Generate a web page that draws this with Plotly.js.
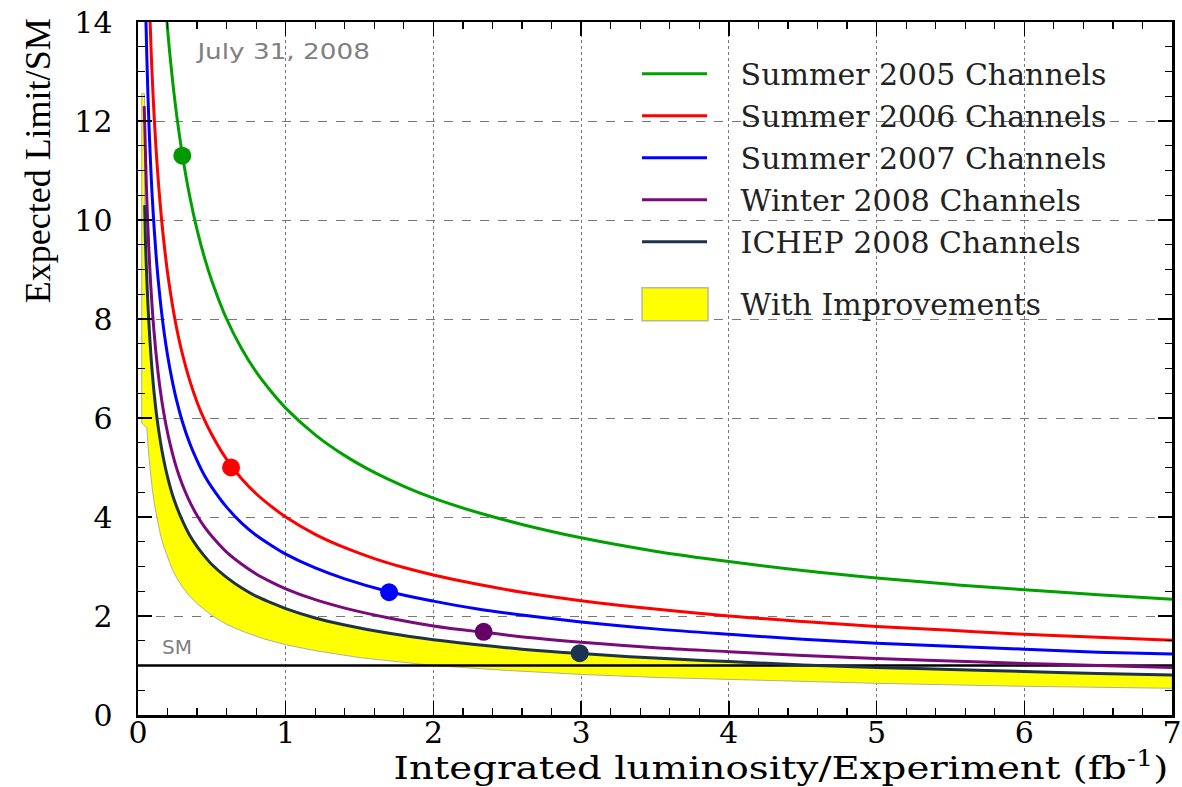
<!DOCTYPE html>
<html>
<head>
<meta charset="utf-8">
<script src="https://cdn.plot.ly/plotly-3.0.1.min.js"></script>
<style>html,body{margin:0;padding:0;background:#fff;}#chart{width:1182px;height:787px;}</style>
</head>
<body>
<div id="chart"></div>
<script>
// ---- Data ----
const seriesNames = ["Summer 2005 Channels","Summer 2006 Channels","Summer 2007 Channels","Winter 2008 Channels","ICHEP 2008 Channels"];
const bandName = "With Improvements";

const s2005X = [0.196,0.22,0.25,0.28,0.31,0.35,0.4,0.45,0.5,0.6,0.7,0.8,0.9,1.0,1.2,1.4,1.6,1.8,2.0,2.3,2.6,3.0,3.5,4.0,4.5,5.0,5.5,6.0,6.5,7.0];
const s2005Y = [14.0,13.22,12.4,11.72,11.14,10.48,9.80,9.24,8.77,8.00,7.41,6.93,6.54,6.20,5.66,5.24,4.90,4.62,4.38,4.09,3.85,3.58,3.31,3.10,2.92,2.77,2.64,2.53,2.43,2.34];

const s2006X = [0.082,0.09,0.1,0.11,0.125,0.14,0.16,0.18,0.2,0.23,0.26,0.3,0.35,0.4,0.45,0.5,0.57,0.63,0.7,0.8,0.9,1.0,1.2,1.4,1.6,1.8,2.0,2.3,2.6,3.0,3.5,4.0,4.5,5.0,5.5,6.0,6.5,7.0];
const s2006Y = [14.0,13.33,12.65,12.06,11.31,10.69,10.0,9.43,8.94,8.34,7.84,7.30,6.76,6.32,5.96,5.66,5.30,5.04,4.78,4.47,4.22,4.00,3.65,3.38,3.16,2.98,2.83,2.64,2.48,2.31,2.14,2.00,1.89,1.79,1.71,1.63,1.57,1.51];

const s2007X = [0.054,0.06,0.067,0.075,0.085,0.095,0.11,0.125,0.14,0.16,0.18,0.2,0.23,0.26,0.3,0.35,0.4,0.45,0.5,0.6,0.7,0.8,0.9,1.0,1.2,1.4,1.7,2.0,2.3,2.6,3.0,3.5,4.0,4.5,5.0,5.5,6.0,6.5,7.0];
const s2007Y = [14.0,13.27,12.56,11.87,11.15,10.54,9.80,9.19,8.69,8.13,7.66,7.27,6.78,6.37,5.93,5.49,5.14,4.84,4.60,4.20,3.88,3.63,3.43,3.25,2.97,2.75,2.49,2.30,2.14,2.02,1.88,1.74,1.63,1.53,1.45,1.39,1.33,1.27,1.23];

const w2008X = [0.042,0.046,0.052,0.058,0.065,0.073,0.082,0.092,0.105,0.12,0.135,0.15,0.17,0.19,0.22,0.25,0.28,0.32,0.36,0.4,0.45,0.5,0.6,0.7,0.8,0.9,1.0,1.2,1.4,1.7,2.0,2.34,2.7,3.0,3.5,4.0,4.5,5.0,5.5,6.0,6.5,7.0];
const w2008Y = [12.3,11.89,11.18,10.59,10.0,9.44,8.91,8.41,7.87,7.36,6.94,6.58,6.18,5.85,5.44,5.10,4.82,4.51,4.25,4.03,3.80,3.61,3.29,3.05,2.85,2.69,2.55,2.33,2.16,1.96,1.80,1.67,1.55,1.47,1.36,1.28,1.20,1.14,1.09,1.04,1.00,0.96];

const ichepX = [0.045,0.05,0.056,0.063,0.07,0.078,0.087,0.097,0.11,0.125,0.14,0.16,0.18,0.2,0.23,0.26,0.3,0.35,0.4,0.45,0.5,0.6,0.7,0.8,0.9,1.0,1.2,1.4,1.7,2.0,2.3,2.6,3.0,3.5,4.0,4.5,5.0,5.5,6.0,6.5,7.0];
const ichepY = [10.3,9.62,9.09,8.57,8.13,7.70,7.29,6.90,6.48,6.08,5.75,5.38,5.07,4.81,4.48,4.22,3.93,3.63,3.40,3.21,3.04,2.78,2.57,2.40,2.27,2.15,1.96,1.82,1.65,1.52,1.42,1.33,1.24,1.15,1.08,1.01,0.96,0.92,0.88,0.84,0.81];

// Yellow band: its top starts at the left, then follows the ICHEP curve; lower edge below
const bandTopLeadX = [0.025,0.044];
const bandTopLeadY = [12.55,12.55];
const bandLowerX = [0.025,0.025,0.06,0.07,0.08,0.09,0.1,0.115,0.13,0.15,0.17,0.2,0.23,0.26,0.3,0.35,0.4,0.5,0.6,0.7,0.85,1.0,1.2,1.5,1.8,2.0,2.5,3.0,3.5,4.0,5.0,6.0,7.0];
const bandLowerY = [12.55,5.9,5.8,5.37,5.02,4.73,4.49,4.19,3.94,3.67,3.44,3.18,2.96,2.78,2.59,2.40,2.25,2.01,1.83,1.70,1.54,1.42,1.30,1.16,1.06,1.00,0.90,0.82,0.76,0.71,0.64,0.58,0.54];

// Highlighted points on each curve
const dotX = [0.30,0.63,1.70,2.34,2.99];
const dotY = [11.3,5.0,2.48,1.68,1.25];

// SM reference line
const smX = [0,7];
const smY = [1,1];

const xTicks = [0,1,2,3,4,5,6,7];
const yTicks = [0,2,4,6,8,10,12,14];

// ---- Styles ----
const colors = ["#00a000","#ff0000","#0000ff","#7a0a7a","#1e3348"];
const dotColors = ["#009a00","#ff0000","#0000ff","#660066","#1a3350"];
const serif = "DejaVu Serif";
const pad = "\u00a0\u00a0\u00a0";

const curveX = [s2005X,s2006X,s2007X,w2008X,ichepX];
const curveY = [s2005Y,s2006Y,s2007Y,w2008Y,ichepY];

const bandX = bandTopLeadX.concat(ichepX, bandLowerX.slice().reverse());
const bandY = bandTopLeadY.concat(ichepY, bandLowerY.slice().reverse());

const traces = [];
traces.push({
  x: bandX, y: bandY,
  type: "scatter", mode: "lines", fill: "toself",
  fillcolor: "#ffff00", line: {color: "#b0b098", width: 1},
  name: pad + bandName, legendgroup: "b", legendrank: 6, hoverinfo: "skip"
});
traces.push({
  x: smX, y: smY, type: "scatter", mode: "lines",
  line: {color: "#000", width: 2.5}, showlegend: false, hoverinfo: "skip"
});
for (let i = 0; i < 5; i++) {
  traces.push({
    x: curveX[i], y: curveY[i], type: "scatter", mode: "lines",
    line: {color: colors[i], width: 3, shape: "spline", smoothing: 1},
    name: pad + seriesNames[i], legendgroup: "a", legendrank: i + 1
  });
}
for (let i = 0; i < 5; i++) {
  traces.push({
    x: [dotX[i]], y: [dotY[i]], type: "scatter", mode: "markers",
    marker: {color: dotColors[i], size: 18, line: {width: 0}},
    showlegend: false, hoverinfo: "skip"
  });
}

const axisCommon = {
  showline: true, linecolor: "#000", linewidth: 2.5, mirror: "allticks",
  ticks: "inside", ticklen: 14, tickwidth: 1.5, tickcolor: "#000",
  showgrid: true, gridcolor: "#777", gridwidth: 1, zeroline: false
};

const layout = {
  width: 1182, height: 787,
  margin: {l: 138, r: 10, t: 22, b: 72},
  paper_bgcolor: "#fff", plot_bgcolor: "#fff",
  showlegend: true,
  xaxis: Object.assign({}, axisCommon, {
    range: [0, 7], tickvals: xTicks, ticktext: xTicks.map(String),
    griddash: "dot", ticklabelstandoff: -11,
    tickfont: {family: serif, size: 30, color: "#000"},
    minor: {dtick: 0.2, ticks: "inside", ticklen: 7, tickwidth: 1.2, tickcolor: "#000", showgrid: false}
  }),
  yaxis: Object.assign({}, axisCommon, {
    range: [0, 14], tickvals: yTicks, ticktext: yTicks.map(String),
    griddash: "dash", ticklabelstandoff: 17,
    tickfont: {family: serif, size: 30, color: "#000"},
    minor: {dtick: 0.5, ticks: "inside", ticklen: 7, tickwidth: 1.2, tickcolor: "#000", showgrid: false}
  }),
  legend: {
    x: 0.4826, y: 0.963, xanchor: "left", yanchor: "top",
    bgcolor: "rgba(255,255,255,0)", borderwidth: 0,
    font: {family: serif, size: 30, color: "#222"},
    itemwidth: 65, traceorder: "grouped", tracegroupgap: 20
  },
  annotations: [
    {text: "Expected Limit/SM", xref: "paper", yref: "paper", x: -0.097, y: 0.80,
     xanchor: "center", yanchor: "middle", textangle: -90, showarrow: false,
     font: {family: "Liberation Serif", size: 36, color: "#000"}},
    {text: "Integrated luminosity/Experiment (fb<sup>-1</sup>)", xref: "paper", yref: "paper",
     x: 0.998, y: -0.074, xanchor: "right", yanchor: "middle", showarrow: false,
     font: {family: serif, size: 31, color: "#000"}},
    {text: "July 31, 2008", xref: "paper", yref: "paper", x: 0.053, y: 0.958,
     xanchor: "left", yanchor: "middle", showarrow: false,
     font: {family: "DejaVu Sans", size: 22, color: "#808080"}},
    {text: "SM", xref: "x", yref: "y", x: 0.15, y: 1.38,
     xanchor: "left", yanchor: "middle", showarrow: false,
     font: {family: "DejaVu Sans", size: 20, color: "#808080"}}
  ]
};

function stretchText(el, targetWidth, originX) {
  const w = el.getBBox().width;
  if (!w) return;
  el.style.transformBox = "fill-box";
  el.style.transformOrigin = originX + " 50%";
  el.style.transform = "scaleX(" + (targetWidth / w) + ")";
}

Plotly.newPlot("chart", traces, layout, {displayModeBar: false, staticPlot: true}).then(function (gd) {
  // Legend box for the filled band, like the reference's yellow swatch
  gd.querySelectorAll(".legendfill path").forEach(function (p) {
    p.setAttribute("d", "M5,-16h66v33h-66z");
    p.style.stroke = "#b8b8a0";
    p.style.strokeWidth = "1.5px";
  });
  gd.querySelectorAll(".traces").forEach(function (g) {
    if (g.querySelector(".legendfill path")) {
      g.querySelectorAll(".legendlines path").forEach(function (p) { p.style.display = "none"; });
    }
  });
  gd.querySelectorAll(".annotation-text").forEach(function (t) {
    const s = t.textContent;
    if (s.indexOf("Integrated") === 0) stretchText(t, 775, "100%");
    else if (s.indexOf("July") === 0) stretchText(t, 175, "0%");
  });
});
</script>
</body>
</html>
